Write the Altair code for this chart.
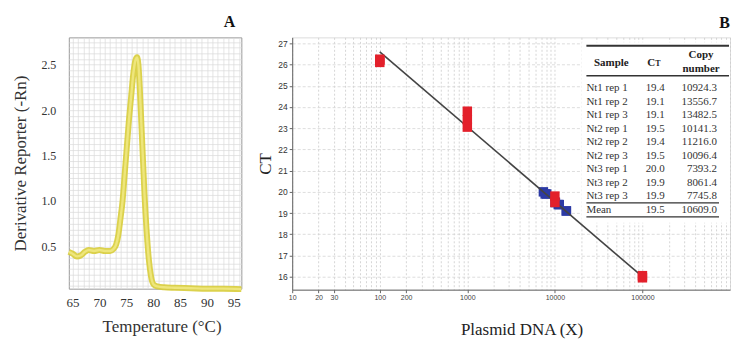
import altair as alt
import pandas as pd

# ---------------- Panel A : melt curve ----------------
temp = [64.3, 65.0, 65.8, 66.5, 67.3, 68.0, 69.0, 70.0, 71.0, 72.0, 72.6, 73.1, 73.5,
        73.9, 74.3, 74.7, 75.1, 75.5, 75.9, 76.3, 76.7, 77.0, 77.25, 77.5, 77.8, 78.1,
        78.4, 78.8, 79.2, 79.6, 80.1, 80.8, 82.0, 84.0, 87.0, 90.0, 93.0, 96.4]
deriv = [0.44, 0.42, 0.39, 0.40, 0.44, 0.46, 0.45, 0.46, 0.45, 0.45, 0.47, 0.52, 0.62,
         0.80, 1.00, 1.30, 1.60, 1.90, 2.15, 2.40, 2.55, 2.58, 2.50, 2.25, 1.85, 1.45,
         1.05, 0.65, 0.35, 0.17, 0.08, 0.06, 0.05, 0.045, 0.04, 0.035, 0.035, 0.03]

# ---------------- Panel B : standard curve ----------------
std_qty = [100, 100, 100, 1000, 1000, 1000, 10000, 10000, 100000, 100000]
std_ct = [26.1, 26.2, 26.25, 23.05, 23.4, 23.8, 19.5, 19.8, 15.95, 16.05]

fit_qty = [100, 100000]
fit_ct = [26.6, 16.0]

samples = ["Nt1 rep 1", "Nt1 rep 2", "Nt1 rep 3", "Nt2 rep 1", "Nt2 rep 2",
           "Nt2 rep 3", "Nt3 rep 1", "Nt3 rep 2", "Nt3 rep 3"]
sample_ct = [19.4, 19.1, 19.1, 19.5, 19.4, 19.5, 20.0, 19.9, 19.9]
sample_copy = [10924.3, 13556.7, 13482.5, 10141.3, 11216.0, 10096.4, 7393.2, 8061.4, 7745.8]
mean_label = "Mean"
mean_ct = 19.5
mean_copy = 10609.0

x_tick_labels = [10, 20, 30, 100, 200, 1000, 10000, 100000]
ct_ticks = list(range(16, 28))

SERIF = "Liberation Serif"
SANS = "Liberation Sans"

# ---------- Panel A ----------
melt = pd.DataFrame({"temp": temp, "deriv": deriv})
a_x_vals = list(range(65, 97))
a_y_vals = [i * 0.0625 for i in range(1, 45)]

baseA = alt.Chart(melt).encode(
    x=alt.X("temp:Q",
            scale=alt.Scale(domain=[64.3, 96.4], nice=False, zero=False),
            axis=alt.Axis(values=a_x_vals,
                          labelExpr="datum.value % 5 == 0 ? datum.label : ''",
                          grid=True, gridColor="#dadada", gridWidth=0.7,
                          ticks=False, tickSize=0, domain=False,
                          labelOverlap=False, labelFlush=False,
                          labelFont=SERIF, labelFontSize=13, labelColor="#333",
                          labelPadding=8,
                          title="Temperature (°C)", titleFont=SERIF, titleFontSize=17,
                          titleFontWeight="normal", titleColor="#333",
                          titlePadding=9, titleX=93)),
    y=alt.Y("deriv:Q",
            scale=alt.Scale(domain=[0.035, 2.8], nice=False, zero=False),
            axis=alt.Axis(values=a_y_vals,
                          labelExpr="datum.value % 0.5 == 0 ? format(datum.value, '.1f') : ''",
                          grid=True, gridColor="#dadada", gridWidth=0.7,
                          ticks=False, tickSize=0, domain=False,
                          labelOverlap=False, labelFlush=False,
                          labelFont=SERIF, labelFontSize=12, labelColor="#333",
                          labelPadding=13,
                          title="Derivative Reporter (-Rn)", titleFont=SERIF,
                          titleFontSize=17, titleFontWeight="normal", titleColor="#333",
                          titlePadding=11)),
)
outerA = baseA.mark_line(color="#d8cd3a", strokeWidth=6, opacity=0.9, interpolate="monotone")
innerA = baseA.mark_line(color="#eee67c", strokeWidth=2.4, interpolate="monotone")

chartA = alt.layer(outerA, innerA).properties(
    width=173, height=252,
    title=alt.TitleParams("A", anchor="end", font=SERIF, fontSize=16,
                          fontWeight="bold", color="#111", offset=6, dx=-18),
    view=alt.ViewBackground(stroke="#9a9a9a", strokeWidth=1),
)

# ---------- Panel B ----------
grid_vals = []
for dec in [10, 100, 1000, 10000, 100000]:
    for m in range(1, 10):
        grid_vals.append(m * dec)
grid_vals.append(1000000)

lab_test = "indexof([10,20,30,100,200,1000,10000,100000], datum.value) >= 0"

xB = alt.X("qty:Q",
           scale=alt.Scale(type="log", domain=[10, 1000000], nice=False),
           axis=alt.Axis(values=grid_vals,
                         labelExpr=lab_test + " ? format(datum.value, 'd') : ''",
                         grid=True, gridColor="#cccccc", gridDash=[2, 2], gridWidth=0.8,
                         tickSize=3, tickColor="#666",
                         tickOpacity={"condition": {"test": lab_test, "value": 1}, "value": 0},
                         domainColor="#666",
                         labelOverlap=False, labelFlush=False, labelBound=False,
                         labelFont=SANS, labelFontSize=7, labelColor="#444", labelPadding=1,
                         title="Plasmid DNA (X)", titleFont=SERIF, titleFontSize=17,
                         titleFontWeight="normal", titleColor="#222",
                         titlePadding=21, titleX=230))
yB = alt.Y("ct:Q",
           scale=alt.Scale(domain=[15.39, 27.28], nice=False, zero=False),
           axis=alt.Axis(values=ct_ticks, format="d",
                         grid=True, gridColor="#d4d4d4", gridDash=[3, 2], gridWidth=0.8,
                         tickSize=3, tickColor="#666", domainColor="#666",
                         labelFont=SANS, labelFontSize=8.5, labelColor="#333",
                         labelPadding=2,
                         title="CT", titleFont=SERIF, titleFontSize=17,
                         titleFontWeight="normal", titleColor="#222", titlePadding=3))

std_df = pd.DataFrame({"qty": std_qty, "ct": std_ct})
fit_df = pd.DataFrame({"qty": fit_qty, "ct": fit_ct})
smp_df = pd.DataFrame({"qty": sample_copy, "ct": sample_ct})

blue = alt.Chart(smp_df).mark_square(size=90, color="#2c3aa5", opacity=1).encode(x=xB, y=yB)
fit = alt.Chart(fit_df).mark_line(color="#444444", strokeWidth=1.6).encode(x=xB, y=yB)
red = alt.Chart(std_df).mark_square(size=90, color="#e3202b", opacity=1).encode(x=xB, y=yB)
mainB = alt.layer(blue, fit, red)

# table inset (pixel layout inside panel B)
tbl_df = pd.DataFrame({
    "row": list(range(len(samples) + 1)),
    "sample": samples + [mean_label],
    "ctv": sample_ct + [mean_ct],
    "copy": sample_copy + [mean_copy],
})
one = alt.Data(values=[{}])
rowY = alt.Y("row:Q", scale=alt.Scale(domain=[0, 9], range=[51, 173]), axis=None)

tbl_bg = alt.Chart(one).mark_rect(color="white").encode(
    x=alt.value(290), x2=alt.value(439), y=alt.value(5), y2=alt.value(186))
tbl_rules = alt.layer(
    alt.Chart(one).mark_rule(color="#333", strokeWidth=2).encode(
        x=alt.value(295), x2=alt.value(438), y=alt.value(8.5)),
    alt.Chart(one).mark_rule(color="#333", strokeWidth=1.4).encode(
        x=alt.value(295), x2=alt.value(438), y=alt.value(38.5)),
    alt.Chart(one).mark_rule(color="#333", strokeWidth=1.2).encode(
        x=alt.value(295), x2=alt.value(428), y=alt.value(166)),
    alt.Chart(one).mark_rule(color="#333", strokeWidth=1.2).encode(
        x=alt.value(295), x2=alt.value(428), y=alt.value(180)),
)
hdr = dict(font=SERIF, fontWeight="bold", color="#222", baseline="alphabetic")
tbl_head = alt.layer(
    alt.Chart(one).mark_text(text="Sample", fontSize=11, align="center", **hdr).encode(
        x=alt.value(320), y=alt.value(29)),
    alt.Chart(one).mark_text(text="C", fontSize=11, align="right", **hdr).encode(
        x=alt.value(364), y=alt.value(29)),
    alt.Chart(one).mark_text(text="T", fontSize=8, align="left", **hdr).encode(
        x=alt.value(364), y=alt.value(29)),
    alt.Chart(one).mark_text(text="Copy", fontSize=11, align="center", **hdr).encode(
        x=alt.value(410), y=alt.value(21)),
    alt.Chart(one).mark_text(text="number", fontSize=11, align="center", **hdr).encode(
        x=alt.value(410), y=alt.value(35)),
)
cell = dict(font=SERIF, fontSize=11, color="#333", baseline="middle")
tbl_base = alt.Chart(tbl_df)
tbl_rows = alt.layer(
    tbl_base.mark_text(align="left", **cell).encode(
        x=alt.value(295), y=rowY, text="sample:N"),
    tbl_base.mark_text(align="center", **cell).encode(
        x=alt.value(364), y=rowY, text=alt.Text("ctv:Q", format=".1f")),
    tbl_base.mark_text(align="right", **cell).encode(
        x=alt.value(426), y=rowY, text=alt.Text("copy:Q", format=".1f")),
)

chartB = alt.layer(mainB, tbl_bg, tbl_rules, tbl_head, tbl_rows).resolve_scale(
    y="independent"
).properties(
    width=439, height=253,
    title=alt.TitleParams("B", anchor="end", font=SERIF, fontSize=16,
                          fontWeight="bold", color="#111", offset=6),
    view=alt.ViewBackground(stroke="#dddddd", strokeWidth=1),
)

chart = alt.hconcat(chartA, chartB, spacing=2).properties(
    padding={"left": 11, "top": 13, "right": 0, "bottom": 0},
    background="white",
)

chart.save("out.html", embed_options={"renderer": "svg", "actions": False})
